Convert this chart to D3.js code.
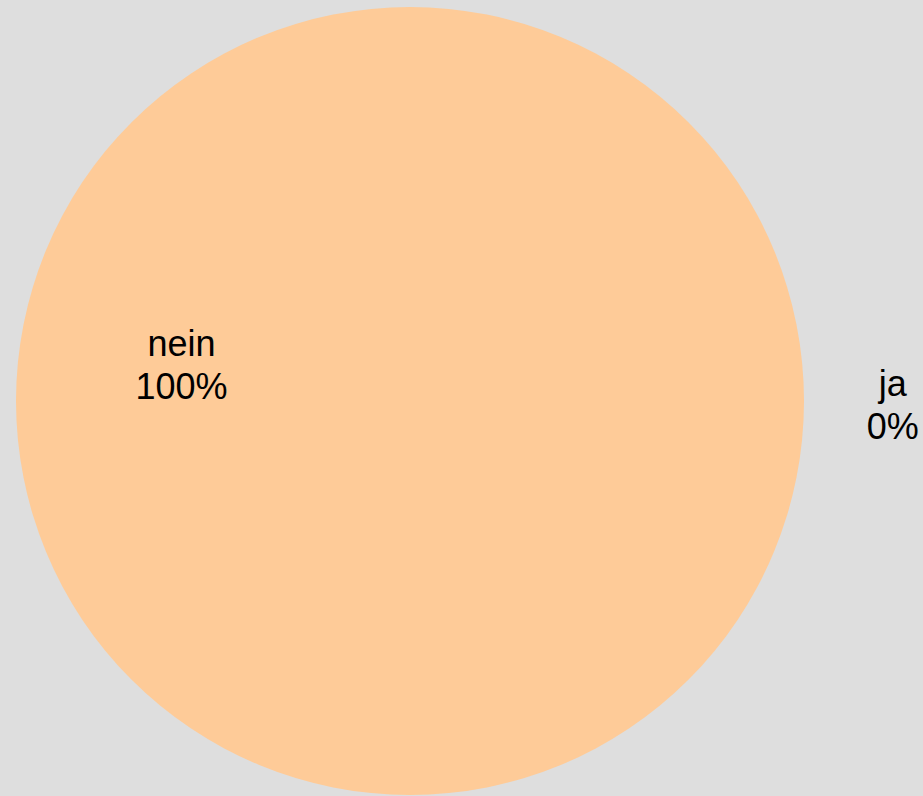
<!DOCTYPE html>
<html>
<head>
<meta charset="utf-8">
<script src="https://cdn.jsdelivr.net/npm/d3@7"></script>
<style>
  body { margin: 0; background: #dedede; }
  svg { display: block; }
</style>
</head>
<body>
<div id="chart"></div>
<script>

var labels = ["ja", "nein"],
    values = [0, 100],
    colors = ["#fb9a99", "#fecb98"];

var svg_dx = 923,
    svg_dy = 796,
    cx = 410,
    cy = 401,
    radius = 394;

var svg = d3.select("#chart")
            .append("svg")
            .attr("width", svg_dx)
            .attr("height", svg_dy);

svg.append("rect")
   .attr("width", svg_dx)
   .attr("height", svg_dy)
   .style("fill", "#dedede");

var total = d3.sum(values);

// start at 3 o'clock, going clockwise
var pie = d3.pie()
            .sort(null)
            .startAngle(Math.PI / 2)
            .endAngle(Math.PI / 2 + 2 * Math.PI)
            .value(d => d);

var arcs = pie(values);

var arc = d3.arc().innerRadius(0).outerRadius(radius);

var g = svg.append("g")
           .attr("transform", "translate(" + cx + "," + cy + ")");

g.selectAll("path")
 .data(arcs)
 .enter()
 .append("path")
 .attr("d", arc)
 .style("fill", (d, i) => colors[i]);

// labels: inside for big slices, outside for empty ones
var inner = d3.arc().innerRadius(radius * 0.58).outerRadius(radius * 0.58),
    outer = d3.arc().innerRadius(radius * 1.225).outerRadius(radius * 1.225);

var lbl = g.selectAll("text.lbl")
           .data(arcs)
           .enter()
           .append("text")
           .attr("class", "lbl")
           .attr("transform", d => {
               var p = (d.value > 0 ? inner : outer).centroid(d);
               var dy = d.value > 0 ? -45 : -5;
               return "translate(" + p[0] + "," + (p[1] + dy) + ")";
           })
           .attr("text-anchor", "middle")
           .style("font-family", "'Liberation Sans', Arial, sans-serif")
           .style("font-size", "36px")
           .style("fill", "#000");

lbl.append("tspan")
   .attr("x", 0)
   .attr("y", 0)
   .text((d, i) => labels[i]);

lbl.append("tspan")
   .attr("x", 0)
   .attr("y", 43)
   .text(d => Math.round(d.value / total * 100) + "%");

</script>
</body>
</html>
